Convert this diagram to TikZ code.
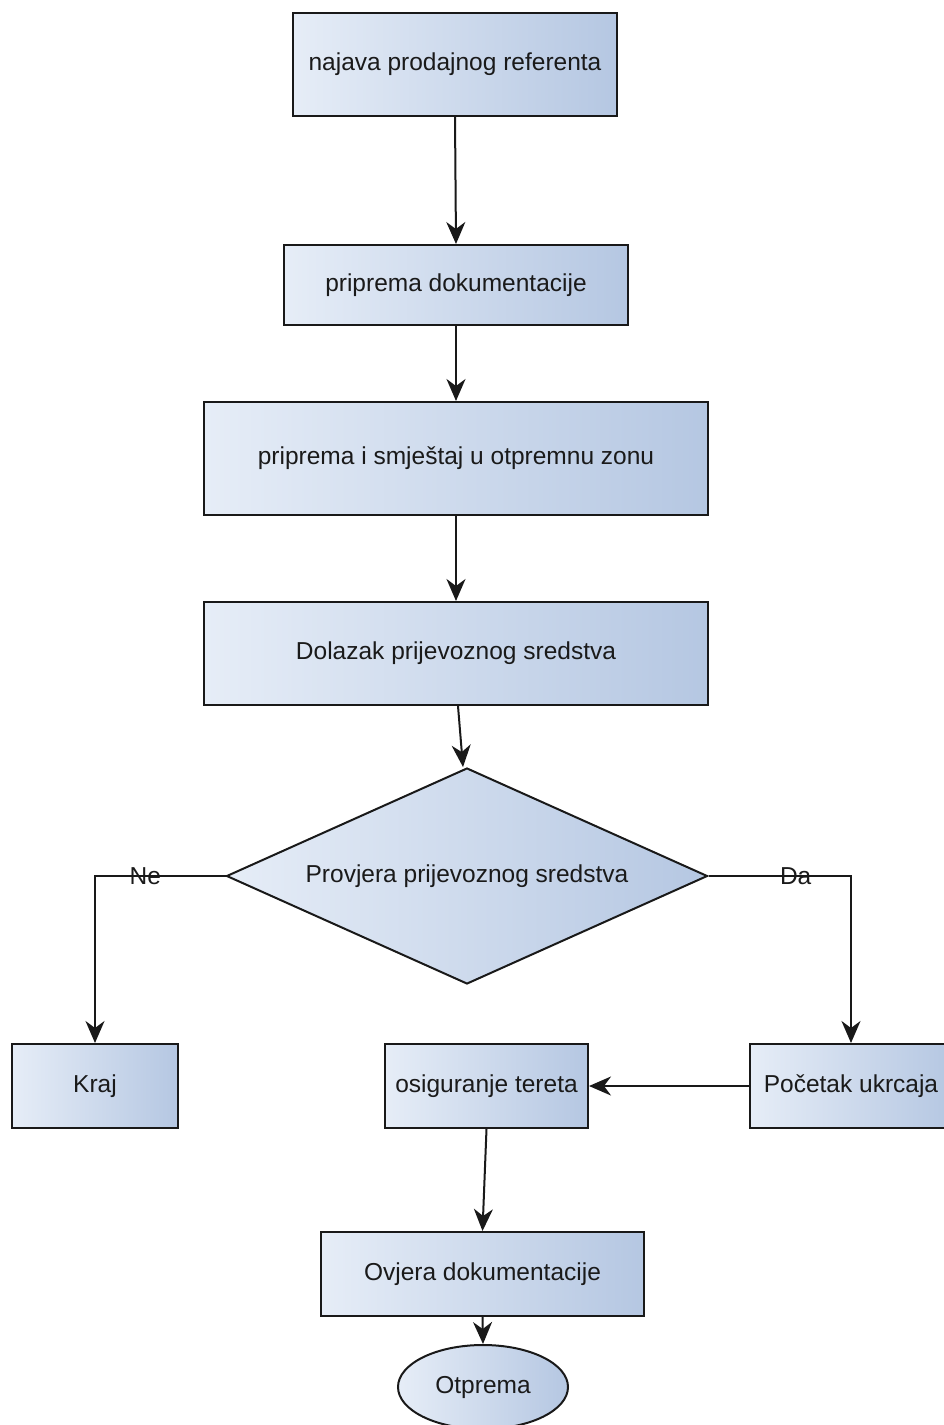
\documentclass[tikz,border=0pt]{standalone}
\usepackage{fontspec}
\setmainfont{Liberation Sans}
\usetikzlibrary{shapes.geometric,arrows.meta}
\definecolor{gradL}{HTML}{E6EDF7}
\definecolor{gradR}{HTML}{B5C7E2}
\definecolor{txt}{HTML}{1A1A1A}
\tikzset{
  box/.style={draw=black!90, line width=2pt, left color=gradL, right color=gradR,
    inner sep=0pt, text=txt, font=\fontsize{24.5}{29}\selectfont},
  proc/.style={box, rectangle},
  decide/.style={box, diamond, aspect=2.2},
  term/.style={box, ellipse},
  conn/.style={line width=2pt, draw=black!90, -{Stealth[length=22pt,width=19pt,inset=7pt]}},
  lbl/.style={text=txt, font=\fontsize{24.5}{29}\selectfont, inner sep=0pt},
}
\begin{document}
\begin{tikzpicture}[x=1pt,y=-1pt]
\useasboundingbox (0,0) rectangle (944,1425);
\node[proc, minimum width=324pt, minimum height=103pt] (n1) at (455,64.5) {najava prodajnog referenta};
\node[proc, minimum width=344pt, minimum height=80pt] (n2) at (456,285) {priprema dokumentacije};
\node[proc, minimum width=504pt, minimum height=113pt] (n3) at (456,458.5) {priprema i smještaj u otpremnu zonu};
\node[proc, minimum width=504pt, minimum height=103pt] (n4) at (456,653.5) {Dolazak prijevoznog sredstva};
\node[decide, minimum width=481pt, minimum height=216pt] (d) at (467,876) {};
\node[lbl] at (d.center) {Provjera prijevoznog sredstva};
\node[proc, minimum width=166pt, minimum height=84pt] (kraj) at (95,1086) {Kraj};
\node[proc, minimum width=203pt, minimum height=84pt] (osig) at (486.5,1086) {osiguranje tereta};
\node[proc, minimum width=202pt, minimum height=84pt] (poc) at (851,1086) {Početak ukrcaja};
\node[proc, minimum width=323pt, minimum height=84pt] (ovj) at (482.5,1274) {Ovjera dokumentacije};
\node[term, minimum width=170pt, minimum height=84pt] (otp) at (483,1387) {Otprema};

\draw[conn] (n1.south) -- (n2.north);
\draw[conn] (n2.south) -- (n3.north);
\draw[conn] (n3.south) -- (n4.north);
\draw[conn] ([xshift=2pt]n4.south) -- ([xshift=-4pt]d.north);
\draw[conn] (d.west) -| node[lbl, pos=0.307] {Ne} (kraj.north);
\draw[conn] (d.east) -| node[lbl, pos=0.306] {Da} (poc.north);
\draw[conn] (poc.west) -- (osig.east);
\draw[conn] (osig.south) -- (ovj.north);
\draw[conn] (ovj.south) -- (otp.north);
\end{tikzpicture}
\end{document}
